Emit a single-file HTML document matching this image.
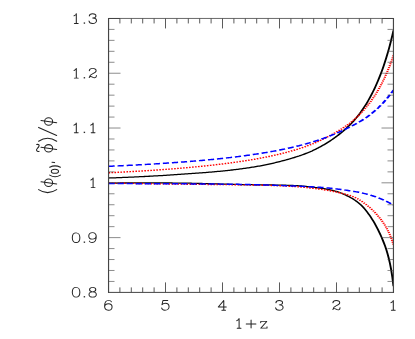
<!DOCTYPE html><html><head><meta charset="utf-8"><style>html,body{margin:0;padding:0;background:#fff;overflow:hidden}svg{display:block}</style></head><body>
<svg width="415" height="339" viewBox="0 0 415 339">
<rect width="415" height="339" fill="#fff"/>
<clipPath id="c"><rect x="108.5" y="18.45" width="285.0" height="273.95"/></clipPath>
<g clip-path="url(#c)" fill="none">
<g transform="scale(1.5,1)" stroke="#000" stroke-width="1.27">
<path d="M72.33,178.02 L73.13,177.98 L73.93,177.93 L74.73,177.89 L75.53,177.85 L76.32,177.80 L77.12,177.76 L77.92,177.71 L78.72,177.66 L79.52,177.62 L80.32,177.57 L81.11,177.52 L81.91,177.47 L82.71,177.42 L83.51,177.37 L84.31,177.32 L85.11,177.27 L85.90,177.22 L86.70,177.17 L87.50,177.12 L88.30,177.06 L89.10,177.01 L89.90,176.95 L90.69,176.90 L91.49,176.84 L92.29,176.79 L93.09,176.73 L93.89,176.67 L94.69,176.61 L95.48,176.56 L96.28,176.50 L97.08,176.44 L97.88,176.37 L98.68,176.31 L99.48,176.25 L100.27,176.19 L101.07,176.12 L101.87,176.06 L102.67,175.99 L103.47,175.92 L104.27,175.86 L105.06,175.79 L105.86,175.72 L106.66,175.65 L107.46,175.58 L108.26,175.51 L109.06,175.43 L109.85,175.36 L110.65,175.29 L111.45,175.21 L112.25,175.14 L113.05,175.06 L113.85,174.98 L114.64,174.90 L115.44,174.82 L116.24,174.74 L117.04,174.66 L117.84,174.57 L118.64,174.49 L119.43,174.40 L120.23,174.32 L121.03,174.23 L121.83,174.15 L122.63,174.06 L123.43,173.98 L124.22,173.90 L125.02,173.82 L125.82,173.74 L126.62,173.65 L127.42,173.57 L128.22,173.49 L129.01,173.41 L129.81,173.33 L130.61,173.24 L131.41,173.16 L132.21,173.08 L133.01,172.99 L133.80,172.90 L134.60,172.81 L135.40,172.72 L136.20,172.63 L137.00,172.54 L137.80,172.44 L138.59,172.34 L139.39,172.24 L140.19,172.14 L140.99,172.04 L141.79,171.93 L142.59,171.82 L143.38,171.71 L144.18,171.60 L144.98,171.49 L145.78,171.38 L146.58,171.26 L147.38,171.15 L148.17,171.03 L148.97,170.91 L149.77,170.78 L150.57,170.66 L151.37,170.53 L152.17,170.40 L152.96,170.27 L153.76,170.14 L154.56,170.00 L155.36,169.86 L156.16,169.72 L156.96,169.57 L157.75,169.42 L158.55,169.27 L159.35,169.12 L160.15,168.96 L160.95,168.80 L161.75,168.64 L162.54,168.48 L163.34,168.31 L164.14,168.14 L164.94,167.97 L165.74,167.79 L166.54,167.61 L167.33,167.42 L168.13,167.24 L168.93,167.05 L169.73,166.85 L170.53,166.65 L171.32,166.44 L172.12,166.23 L172.92,166.02 L173.72,165.80 L174.52,165.57 L175.32,165.34 L176.11,165.11 L176.91,164.86 L177.71,164.62 L178.51,164.37 L179.31,164.11 L180.11,163.85 L180.90,163.59 L181.70,163.32 L182.50,163.04 L183.30,162.76 L184.10,162.47 L184.90,162.18 L185.69,161.89 L186.49,161.58 L187.29,161.28 L188.09,160.96 L188.89,160.65 L189.69,160.32 L190.48,159.99 L191.28,159.66 L192.08,159.32 L192.88,158.98 L193.68,158.63 L194.48,158.28 L195.27,157.92 L196.07,157.56 L196.87,157.18 L197.67,156.80 L198.47,156.41 L199.27,156.02 L200.06,155.61 L200.86,155.20 L201.66,154.77 L202.46,154.33 L203.26,153.88 L204.06,153.42 L204.85,152.95 L205.65,152.46 L206.45,151.96 L207.25,151.44 L208.05,150.91 L208.85,150.35 L209.64,149.78 L210.44,149.20 L211.24,148.60 L212.04,147.98 L212.84,147.34 L213.64,146.69 L214.43,146.03 L215.23,145.35 L216.03,144.65 L216.83,143.94 L217.63,143.21 L218.43,142.47 L219.22,141.71 L220.02,140.94 L220.82,140.15 L221.62,139.34 L222.42,138.51 L223.22,137.66 L224.01,136.79 L224.81,135.89 L225.61,134.97 L226.41,134.02 L227.21,133.06 L228.01,132.06 L228.80,131.04 L229.60,130.00 L230.40,128.92 L231.20,127.82 L232.00,126.69 L232.80,125.54 L233.59,124.35 L234.39,123.13 L235.19,121.87 L235.99,120.57 L236.79,119.22 L237.59,117.81 L238.38,116.35 L239.18,114.82 L239.98,113.24 L240.78,111.59 L241.58,109.88 L242.38,108.11 L243.17,106.28 L243.97,104.39 L244.77,102.43 L245.57,100.39 L246.37,98.27 L247.17,96.06 L247.96,93.78 L248.76,91.40 L249.56,88.93 L250.36,86.36 L251.16,83.69 L251.96,80.92 L252.75,78.03 L253.55,75.01 L254.35,71.85 L255.15,68.55 L255.95,65.10 L256.75,61.48 L257.54,57.68 L258.34,53.69 L259.14,49.50 L259.94,45.09 L260.74,40.44 L261.54,35.54 L262.33,30.36"/><path d="M72.33,183.02 L73.13,183.02 L73.93,183.02 L74.73,183.02 L75.53,183.01 L76.32,183.01 L77.12,183.01 L77.92,183.01 L78.72,183.01 L79.52,183.01 L80.32,183.00 L81.11,183.00 L81.91,183.00 L82.71,183.00 L83.51,183.00 L84.31,182.99 L85.11,182.99 L85.90,182.99 L86.70,182.99 L87.50,182.98 L88.30,182.98 L89.10,182.98 L89.90,182.98 L90.69,182.97 L91.49,182.97 L92.29,182.97 L93.09,182.97 L93.89,182.96 L94.69,182.96 L95.48,182.96 L96.28,182.96 L97.08,182.96 L97.88,182.95 L98.68,182.95 L99.48,182.95 L100.27,182.95 L101.07,182.95 L101.87,182.95 L102.67,182.95 L103.47,182.95 L104.27,182.95 L105.06,182.95 L105.86,182.95 L106.66,182.95 L107.46,182.95 L108.26,182.95 L109.06,182.96 L109.85,182.96 L110.65,182.97 L111.45,182.97 L112.25,182.98 L113.05,182.98 L113.85,182.99 L114.64,183.00 L115.44,183.01 L116.24,183.02 L117.04,183.03 L117.84,183.04 L118.64,183.05 L119.43,183.07 L120.23,183.08 L121.03,183.10 L121.83,183.11 L122.63,183.13 L123.43,183.15 L124.22,183.17 L125.02,183.19 L125.82,183.21 L126.62,183.23 L127.42,183.25 L128.22,183.28 L129.01,183.30 L129.81,183.33 L130.61,183.35 L131.41,183.38 L132.21,183.41 L133.01,183.44 L133.80,183.47 L134.60,183.50 L135.40,183.53 L136.20,183.56 L137.00,183.59 L137.80,183.62 L138.59,183.66 L139.39,183.69 L140.19,183.73 L140.99,183.76 L141.79,183.80 L142.59,183.83 L143.38,183.87 L144.18,183.90 L144.98,183.94 L145.78,183.97 L146.58,184.01 L147.38,184.04 L148.17,184.08 L148.97,184.11 L149.77,184.15 L150.57,184.18 L151.37,184.22 L152.17,184.25 L152.96,184.28 L153.76,184.32 L154.56,184.35 L155.36,184.38 L156.16,184.41 L156.96,184.44 L157.75,184.47 L158.55,184.49 L159.35,184.52 L160.15,184.54 L160.95,184.57 L161.75,184.59 L162.54,184.61 L163.34,184.63 L164.14,184.65 L164.94,184.67 L165.74,184.69 L166.54,184.71 L167.33,184.73 L168.13,184.74 L168.93,184.76 L169.73,184.77 L170.53,184.79 L171.32,184.80 L172.12,184.82 L172.92,184.83 L173.72,184.84 L174.52,184.86 L175.32,184.87 L176.11,184.88 L176.91,184.89 L177.71,184.91 L178.51,184.92 L179.31,184.93 L180.11,184.95 L180.90,184.96 L181.70,184.98 L182.50,184.99 L183.30,185.01 L184.10,185.03 L184.90,185.05 L185.69,185.07 L186.49,185.09 L187.29,185.12 L188.09,185.14 L188.89,185.17 L189.69,185.20 L190.48,185.23 L191.28,185.26 L192.08,185.30 L192.88,185.34 L193.68,185.38 L194.48,185.42 L195.27,185.46 L196.07,185.51 L196.87,185.56 L197.67,185.62 L198.47,185.68 L199.27,185.77 L200.06,185.86 L200.86,185.96 L201.66,186.07 L202.46,186.18 L203.26,186.30 L204.06,186.42 L204.85,186.55 L205.65,186.67 L206.45,186.80 L207.25,186.94 L208.05,187.08 L208.85,187.24 L209.64,187.39 L210.44,187.55 L211.24,187.71 L212.04,187.87 L212.84,188.02 L213.64,188.18 L214.43,188.33 L215.23,188.50 L216.03,188.68 L216.83,188.88 L217.63,189.08 L218.43,189.30 L219.22,189.54 L220.02,189.79 L220.82,190.05 L221.62,190.34 L222.42,190.65 L223.22,190.97 L224.01,191.32 L224.81,191.69 L225.61,192.09 L226.41,192.52 L227.21,192.97 L228.01,193.46 L228.80,193.97 L229.60,194.52 L230.40,195.07 L231.20,195.63 L232.00,196.20 L232.80,196.80 L233.59,197.44 L234.39,198.12 L235.19,198.84 L235.99,199.59 L236.79,200.38 L237.59,201.22 L238.38,202.12 L239.18,203.09 L239.98,204.11 L240.78,205.18 L241.58,206.35 L242.38,207.63 L243.17,209.04 L243.97,210.51 L244.77,212.05 L245.57,213.66 L246.37,215.33 L247.17,217.07 L247.96,218.88 L248.76,220.79 L249.56,222.83 L250.36,224.99 L251.16,227.24 L251.96,229.57 L252.75,231.98 L253.55,234.51 L254.35,237.19 L255.15,240.02 L255.95,243.02 L256.75,246.21 L257.54,249.69 L258.34,253.60 L259.14,258.06 L259.94,263.25 L260.74,269.42 L261.54,276.90 L262.33,286.16"/></g>
<g transform="scale(1.5,1)" stroke="#f00" stroke-width="1.4" stroke-dasharray="1.06 0.94">
<path d="M72.33,172.78 L73.13,172.72 L73.93,172.66 L74.73,172.61 L75.53,172.55 L76.32,172.49 L77.12,172.43 L77.92,172.37 L78.72,172.31 L79.52,172.24 L80.32,172.18 L81.11,172.12 L81.91,172.06 L82.71,171.99 L83.51,171.93 L84.31,171.86 L85.11,171.80 L85.90,171.73 L86.70,171.67 L87.50,171.60 L88.30,171.53 L89.10,171.46 L89.90,171.39 L90.69,171.32 L91.49,171.25 L92.29,171.18 L93.09,171.11 L93.89,171.04 L94.69,170.97 L95.48,170.89 L96.28,170.82 L97.08,170.74 L97.88,170.67 L98.68,170.59 L99.48,170.51 L100.27,170.44 L101.07,170.36 L101.87,170.28 L102.67,170.20 L103.47,170.12 L104.27,170.04 L105.06,169.95 L105.86,169.87 L106.66,169.79 L107.46,169.70 L108.26,169.62 L109.06,169.53 L109.85,169.44 L110.65,169.35 L111.45,169.27 L112.25,169.18 L113.05,169.08 L113.85,168.99 L114.64,168.90 L115.44,168.81 L116.24,168.71 L117.04,168.62 L117.84,168.52 L118.64,168.42 L119.43,168.32 L120.23,168.23 L121.03,168.12 L121.83,168.02 L122.63,167.92 L123.43,167.82 L124.22,167.71 L125.02,167.61 L125.82,167.50 L126.62,167.39 L127.42,167.28 L128.22,167.17 L129.01,167.06 L129.81,166.95 L130.61,166.83 L131.41,166.72 L132.21,166.60 L133.01,166.48 L133.80,166.36 L134.60,166.24 L135.40,166.12 L136.20,166.00 L137.00,165.87 L137.80,165.75 L138.59,165.62 L139.39,165.49 L140.19,165.36 L140.99,165.23 L141.79,165.09 L142.59,164.96 L143.38,164.82 L144.18,164.68 L144.98,164.54 L145.78,164.40 L146.58,164.26 L147.38,164.11 L148.17,163.97 L148.97,163.82 L149.77,163.67 L150.57,163.51 L151.37,163.36 L152.17,163.20 L152.96,163.05 L153.76,162.89 L154.56,162.72 L155.36,162.56 L156.16,162.39 L156.96,162.23 L157.75,162.06 L158.55,161.88 L159.35,161.71 L160.15,161.53 L160.95,161.35 L161.75,161.17 L162.54,160.99 L163.34,160.80 L164.14,160.61 L164.94,160.42 L165.74,160.22 L166.54,160.03 L167.33,159.83 L168.13,159.62 L168.93,159.42 L169.73,159.21 L170.53,159.00 L171.32,158.78 L172.12,158.57 L172.92,158.35 L173.72,158.12 L174.52,157.90 L175.32,157.67 L176.11,157.43 L176.91,157.20 L177.71,156.96 L178.51,156.71 L179.31,156.46 L180.11,156.21 L180.90,155.96 L181.70,155.70 L182.50,155.44 L183.30,155.17 L184.10,154.90 L184.90,154.62 L185.69,154.34 L186.49,154.06 L187.29,153.77 L188.09,153.47 L188.89,153.18 L189.69,152.87 L190.48,152.56 L191.28,152.25 L192.08,151.93 L192.88,151.61 L193.68,151.28 L194.48,150.94 L195.27,150.60 L196.07,150.25 L196.87,149.90 L197.67,149.54 L198.47,149.18 L199.27,148.80 L200.06,148.42 L200.86,148.04 L201.66,147.64 L202.46,147.23 L203.26,146.81 L204.06,146.38 L204.85,145.94 L205.65,145.49 L206.45,145.03 L207.25,144.56 L208.05,144.08 L208.85,143.60 L209.64,143.10 L210.44,142.58 L211.24,142.06 L212.04,141.53 L212.84,140.99 L213.64,140.44 L214.43,139.87 L215.23,139.27 L216.03,138.66 L216.83,138.04 L217.63,137.41 L218.43,136.78 L219.22,136.14 L220.02,135.51 L220.82,134.87 L221.62,134.23 L222.42,133.58 L223.22,132.92 L224.01,132.24 L224.81,131.56 L225.61,130.85 L226.41,130.13 L227.21,129.38 L228.01,128.63 L228.80,127.87 L229.60,127.08 L230.40,126.28 L231.20,125.45 L232.00,124.60 L232.80,123.71 L233.59,122.78 L234.39,121.81 L235.19,120.81 L235.99,119.77 L236.79,118.71 L237.59,117.61 L238.38,116.48 L239.18,115.31 L239.98,114.11 L240.78,112.88 L241.58,111.60 L242.38,110.29 L243.17,108.93 L243.97,107.52 L244.77,106.07 L245.57,104.57 L246.37,103.02 L247.17,101.42 L247.96,99.76 L248.76,98.03 L249.56,96.25 L250.36,94.39 L251.16,92.47 L251.96,90.47 L252.75,88.40 L253.55,86.24 L254.35,83.99 L255.15,81.65 L255.95,79.21 L256.75,76.66 L257.54,74.00 L258.34,71.22 L259.14,68.31 L259.94,65.26 L260.74,62.07 L261.54,58.71 L262.33,55.19"/><path d="M72.33,183.12 L73.13,183.13 L73.93,183.14 L74.73,183.16 L75.53,183.17 L76.32,183.18 L77.12,183.20 L77.92,183.21 L78.72,183.22 L79.52,183.24 L80.32,183.25 L81.11,183.27 L81.91,183.28 L82.71,183.30 L83.51,183.31 L84.31,183.33 L85.11,183.34 L85.90,183.36 L86.70,183.37 L87.50,183.39 L88.30,183.41 L89.10,183.42 L89.90,183.44 L90.69,183.46 L91.49,183.47 L92.29,183.49 L93.09,183.51 L93.89,183.53 L94.69,183.54 L95.48,183.56 L96.28,183.58 L97.08,183.60 L97.88,183.61 L98.68,183.63 L99.48,183.65 L100.27,183.67 L101.07,183.69 L101.87,183.70 L102.67,183.72 L103.47,183.74 L104.27,183.76 L105.06,183.78 L105.86,183.79 L106.66,183.81 L107.46,183.83 L108.26,183.85 L109.06,183.86 L109.85,183.88 L110.65,183.90 L111.45,183.92 L112.25,183.94 L113.05,183.95 L113.85,183.97 L114.64,183.99 L115.44,184.00 L116.24,184.02 L117.04,184.04 L117.84,184.05 L118.64,184.07 L119.43,184.09 L120.23,184.10 L121.03,184.12 L121.83,184.14 L122.63,184.15 L123.43,184.17 L124.22,184.18 L125.02,184.20 L125.82,184.21 L126.62,184.23 L127.42,184.24 L128.22,184.26 L129.01,184.27 L129.81,184.29 L130.61,184.30 L131.41,184.32 L132.21,184.33 L133.01,184.34 L133.80,184.36 L134.60,184.37 L135.40,184.39 L136.20,184.40 L137.00,184.41 L137.80,184.43 L138.59,184.44 L139.39,184.45 L140.19,184.46 L140.99,184.48 L141.79,184.49 L142.59,184.50 L143.38,184.52 L144.18,184.53 L144.98,184.54 L145.78,184.55 L146.58,184.57 L147.38,184.58 L148.17,184.59 L148.97,184.61 L149.77,184.62 L150.57,184.63 L151.37,184.65 L152.17,184.66 L152.96,184.67 L153.76,184.69 L154.56,184.70 L155.36,184.72 L156.16,184.73 L156.96,184.75 L157.75,184.76 L158.55,184.78 L159.35,184.79 L160.15,184.81 L160.95,184.82 L161.75,184.84 L162.54,184.86 L163.34,184.87 L164.14,184.89 L164.94,184.91 L165.74,184.93 L166.54,184.95 L167.33,184.97 L168.13,184.99 L168.93,185.01 L169.73,185.03 L170.53,185.06 L171.32,185.08 L172.12,185.10 L172.92,185.13 L173.72,185.15 L174.52,185.18 L175.32,185.21 L176.11,185.24 L176.91,185.27 L177.71,185.30 L178.51,185.33 L179.31,185.36 L180.11,185.40 L180.90,185.43 L181.70,185.47 L182.50,185.51 L183.30,185.55 L184.10,185.60 L184.90,185.65 L185.69,185.69 L186.49,185.75 L187.29,185.80 L188.09,185.86 L188.89,185.91 L189.69,185.98 L190.48,186.04 L191.28,186.10 L192.08,186.17 L192.88,186.24 L193.68,186.31 L194.48,186.38 L195.27,186.46 L196.07,186.54 L196.87,186.62 L197.67,186.70 L198.47,186.79 L199.27,186.89 L200.06,186.98 L200.86,187.09 L201.66,187.20 L202.46,187.31 L203.26,187.43 L204.06,187.55 L204.85,187.68 L205.65,187.81 L206.45,187.94 L207.25,188.08 L208.05,188.22 L208.85,188.36 L209.64,188.51 L210.44,188.66 L211.24,188.81 L212.04,188.96 L212.84,189.11 L213.64,189.27 L214.43,189.44 L215.23,189.60 L216.03,189.78 L216.83,189.96 L217.63,190.15 L218.43,190.34 L219.22,190.54 L220.02,190.76 L220.82,190.98 L221.62,191.21 L222.42,191.46 L223.22,191.71 L224.01,191.98 L224.81,192.24 L225.61,192.50 L226.41,192.76 L227.21,193.03 L228.01,193.32 L228.80,193.61 L229.60,193.93 L230.40,194.24 L231.20,194.56 L232.00,194.89 L232.80,195.25 L233.59,195.65 L234.39,196.08 L235.19,196.53 L235.99,197.02 L236.79,197.56 L237.59,198.16 L238.38,198.80 L239.18,199.49 L239.98,200.21 L240.78,200.96 L241.58,201.76 L242.38,202.59 L243.17,203.48 L243.97,204.40 L244.77,205.35 L245.57,206.34 L246.37,207.37 L247.17,208.44 L247.96,209.54 L248.76,210.69 L249.56,211.88 L250.36,213.13 L251.16,214.44 L251.96,215.80 L252.75,217.23 L253.55,218.72 L254.35,220.28 L255.15,221.94 L255.95,223.70 L256.75,225.58 L257.54,227.60 L258.34,229.79 L259.14,232.18 L259.94,234.80 L260.74,237.73 L261.54,241.04 L262.33,244.82"/></g>
<g transform="scale(1.5,1)" stroke="#00f" stroke-width="1.48">
<path d="M72.33,166.30 L73.13,166.25 L73.93,166.20 L74.73,166.14 L75.53,166.09 L76.32,166.03 L77.12,165.98 L77.92,165.92 L78.72,165.87 L79.52,165.81 L80.32,165.75 L81.11,165.70 L81.91,165.64 L82.71,165.58 L83.51,165.52 L84.31,165.46 L85.11,165.40 L85.90,165.34 L86.70,165.28 L87.50,165.22 L88.30,165.16 L89.10,165.09 L89.90,165.03 L90.69,164.97 L91.49,164.90 L92.29,164.84 L93.09,164.77 L93.89,164.71 L94.69,164.64 L95.48,164.58 L96.28,164.51 L97.08,164.44 L97.88,164.37 L98.68,164.30 L99.48,164.23 L100.27,164.16 L101.07,164.09 L101.87,164.02 L102.67,163.95 L103.47,163.87 L104.27,163.80 L105.06,163.73 L105.86,163.65 L106.66,163.57 L107.46,163.50 L108.26,163.42 L109.06,163.34 L109.85,163.26 L110.65,163.19 L111.45,163.11 L112.25,163.02 L113.05,162.94 L113.85,162.86 L114.64,162.78 L115.44,162.69 L116.24,162.61 L117.04,162.52 L117.84,162.44 L118.64,162.35 L119.43,162.26 L120.23,162.17 L121.03,162.08 L121.83,161.99 L122.63,161.90 L123.43,161.81 L124.22,161.72 L125.02,161.62 L125.82,161.53 L126.62,161.43 L127.42,161.33 L128.22,161.23 L129.01,161.14 L129.81,161.03 L130.61,160.93 L131.41,160.83 L132.21,160.73 L133.01,160.62 L133.80,160.52 L134.60,160.41 L135.40,160.30 L136.20,160.20 L137.00,160.09 L137.80,159.97 L138.59,159.86 L139.39,159.75 L140.19,159.63 L140.99,159.52 L141.79,159.40 L142.59,159.28 L143.38,159.16 L144.18,159.04 L144.98,158.92 L145.78,158.79 L146.58,158.67 L147.38,158.54 L148.17,158.41 L148.97,158.28 L149.77,158.15 L150.57,158.02 L151.37,157.89 L152.17,157.75 L152.96,157.61 L153.76,157.48 L154.56,157.33 L155.36,157.19 L156.16,157.05 L156.96,156.90 L157.75,156.76 L158.55,156.61 L159.35,156.46 L160.15,156.30 L160.95,156.15 L161.75,155.99 L162.54,155.84 L163.34,155.67 L164.14,155.51 L164.94,155.35 L165.74,155.18 L166.54,155.01 L167.33,154.84 L168.13,154.67 L168.93,154.50 L169.73,154.32 L170.53,154.14 L171.32,153.96 L172.12,153.77 L172.92,153.59 L173.72,153.40 L174.52,153.21 L175.32,153.01 L176.11,152.82 L176.91,152.62 L177.71,152.42 L178.51,152.21 L179.31,152.00 L180.11,151.79 L180.90,151.58 L181.70,151.36 L182.50,151.14 L183.30,150.92 L184.10,150.70 L184.90,150.47 L185.69,150.24 L186.49,150.00 L187.29,149.76 L188.09,149.52 L188.89,149.27 L189.69,149.03 L190.48,148.77 L191.28,148.52 L192.08,148.26 L192.88,147.99 L193.68,147.72 L194.48,147.45 L195.27,147.17 L196.07,146.89 L196.87,146.61 L197.67,146.32 L198.47,146.02 L199.27,145.73 L200.06,145.42 L200.86,145.11 L201.66,144.80 L202.46,144.48 L203.26,144.16 L204.06,143.83 L204.85,143.49 L205.65,143.16 L206.45,142.81 L207.25,142.46 L208.05,142.10 L208.85,141.74 L209.64,141.37 L210.44,140.99 L211.24,140.61 L212.04,140.22 L212.84,139.83 L213.64,139.42 L214.43,139.01 L215.23,138.60 L216.03,138.17 L216.83,137.74 L217.63,137.30 L218.43,136.85 L219.22,136.39 L220.02,135.93 L220.82,135.45 L221.62,134.97 L222.42,134.48 L223.22,133.98 L224.01,133.46 L224.81,132.94 L225.61,132.41 L226.41,131.87 L227.21,131.32 L228.01,130.77 L228.80,130.21 L229.60,129.66 L230.40,129.09 L231.20,128.52 L232.00,127.95 L232.80,127.36 L233.59,126.76 L234.39,126.15 L235.19,125.53 L235.99,124.89 L236.79,124.24 L237.59,123.58 L238.38,122.91 L239.18,122.24 L239.98,121.56 L240.78,120.86 L241.58,120.13 L242.38,119.39 L243.17,118.61 L243.97,117.79 L244.77,116.93 L245.57,116.05 L246.37,115.14 L247.17,114.21 L247.96,113.25 L248.76,112.27 L249.56,111.27 L250.36,110.23 L251.16,109.17 L251.96,108.08 L252.75,106.95 L253.55,105.78 L254.35,104.56 L255.15,103.29 L255.95,101.99 L256.75,100.64 L257.54,99.26 L258.34,97.85 L259.14,96.40 L259.94,94.89 L260.74,93.32 L261.54,91.71 L262.33,90.05" stroke-dasharray="4.12 1.94"/>
<path d="M72.33,183.57 L73.13,183.57 L73.93,183.57 L74.73,183.57 L75.53,183.58 L76.32,183.58 L77.12,183.58 L77.92,183.58 L78.72,183.59 L79.52,183.59 L80.32,183.59 L81.11,183.60 L81.91,183.60 L82.71,183.60 L83.51,183.61 L84.31,183.61 L85.11,183.61 L85.90,183.62 L86.70,183.62 L87.50,183.62 L88.30,183.63 L89.10,183.63 L89.90,183.63 L90.69,183.64 L91.49,183.64 L92.29,183.64 L93.09,183.65 L93.89,183.65 L94.69,183.66 L95.48,183.66 L96.28,183.66 L97.08,183.67 L97.88,183.67 L98.68,183.68 L99.48,183.68 L100.27,183.69 L101.07,183.69 L101.87,183.70 L102.67,183.70 L103.47,183.70 L104.27,183.71 L105.06,183.71 L105.86,183.72 L106.66,183.72 L107.46,183.73 L108.26,183.73 L109.06,183.74 L109.85,183.75 L110.65,183.75 L111.45,183.76 L112.25,183.76 L113.05,183.77 L113.85,183.77 L114.64,183.78 L115.44,183.79 L116.24,183.79 L117.04,183.80 L117.84,183.80 L118.64,183.81 L119.43,183.82 L120.23,183.82 L121.03,183.83 L121.83,183.84 L122.63,183.84 L123.43,183.85 L124.22,183.86 L125.02,183.87 L125.82,183.87 L126.62,183.88 L127.42,183.89 L128.22,183.90 L129.01,183.90 L129.81,183.91 L130.61,183.92 L131.41,183.93 L132.21,183.94 L133.01,183.95 L133.80,183.96 L134.60,183.96 L135.40,183.97 L136.20,183.98 L137.00,183.99 L137.80,184.00 L138.59,184.01 L139.39,184.02 L140.19,184.03 L140.99,184.04 L141.79,184.05 L142.59,184.06 L143.38,184.07 L144.18,184.09 L144.98,184.10 L145.78,184.11 L146.58,184.12 L147.38,184.13 L148.17,184.14 L148.97,184.16 L149.77,184.17 L150.57,184.18 L151.37,184.20 L152.17,184.21 L152.96,184.22 L153.76,184.24 L154.56,184.25 L155.36,184.27 L156.16,184.29 L156.96,184.30 L157.75,184.32 L158.55,184.34 L159.35,184.36 L160.15,184.39 L160.95,184.41 L161.75,184.43 L162.54,184.46 L163.34,184.48 L164.14,184.51 L164.94,184.53 L165.74,184.56 L166.54,184.59 L167.33,184.62 L168.13,184.65 L168.93,184.68 L169.73,184.71 L170.53,184.74 L171.32,184.78 L172.12,184.81 L172.92,184.84 L173.72,184.88 L174.52,184.91 L175.32,184.95 L176.11,184.98 L176.91,185.02 L177.71,185.06 L178.51,185.09 L179.31,185.13 L180.11,185.17 L180.90,185.21 L181.70,185.25 L182.50,185.29 L183.30,185.33 L184.10,185.37 L184.90,185.41 L185.69,185.45 L186.49,185.50 L187.29,185.54 L188.09,185.58 L188.89,185.63 L189.69,185.67 L190.48,185.72 L191.28,185.76 L192.08,185.81 L192.88,185.85 L193.68,185.90 L194.48,185.94 L195.27,185.99 L196.07,186.04 L196.87,186.09 L197.67,186.14 L198.47,186.18 L199.27,186.23 L200.06,186.28 L200.86,186.33 L201.66,186.38 L202.46,186.43 L203.26,186.48 L204.06,186.54 L204.85,186.59 L205.65,186.65 L206.45,186.71 L207.25,186.77 L208.05,186.83 L208.85,186.90 L209.64,186.96 L210.44,187.03 L211.24,187.11 L212.04,187.19 L212.84,187.27 L213.64,187.35 L214.43,187.44 L215.23,187.54 L216.03,187.64 L216.83,187.75 L217.63,187.86 L218.43,187.97 L219.22,188.09 L220.02,188.22 L220.82,188.34 L221.62,188.47 L222.42,188.61 L223.22,188.75 L224.01,188.89 L224.81,189.04 L225.61,189.19 L226.41,189.34 L227.21,189.49 L228.01,189.65 L228.80,189.81 L229.60,189.98 L230.40,190.14 L231.20,190.31 L232.00,190.49 L232.80,190.66 L233.59,190.85 L234.39,191.03 L235.19,191.23 L235.99,191.43 L236.79,191.64 L237.59,191.85 L238.38,192.07 L239.18,192.30 L239.98,192.54 L240.78,192.79 L241.58,193.06 L242.38,193.33 L243.17,193.61 L243.97,193.90 L244.77,194.21 L245.57,194.53 L246.37,194.87 L247.17,195.22 L247.96,195.58 L248.76,195.96 L249.56,196.36 L250.36,196.77 L251.16,197.19 L251.96,197.63 L252.75,198.09 L253.55,198.57 L254.35,199.07 L255.15,199.58 L255.95,200.12 L256.75,200.68 L257.54,201.25 L258.34,201.85 L259.14,202.47 L259.94,203.11 L260.74,203.77 L261.54,204.45 L262.33,205.15" stroke-dasharray="4.12 1.94"/></g>
</g>
<path d="M119.90,18.45v5M119.90,292.4v-5M131.30,18.45v5M131.30,292.4v-5M142.70,18.45v5M142.70,292.4v-5M154.10,18.45v5M154.10,292.4v-5M165.50,18.45v10M165.50,292.4v-10M176.90,18.45v5M176.90,292.4v-5M188.30,18.45v5M188.30,292.4v-5M199.70,18.45v5M199.70,292.4v-5M211.10,18.45v5M211.10,292.4v-5M222.50,18.45v10M222.50,292.4v-10M233.90,18.45v5M233.90,292.4v-5M245.30,18.45v5M245.30,292.4v-5M256.70,18.45v5M256.70,292.4v-5M268.10,18.45v5M268.10,292.4v-5M279.50,18.45v10M279.50,292.4v-10M290.90,18.45v5M290.90,292.4v-5M302.30,18.45v5M302.30,292.4v-5M313.70,18.45v5M313.70,292.4v-5M325.10,18.45v5M325.10,292.4v-5M336.50,18.45v10M336.50,292.4v-10M347.90,18.45v5M347.90,292.4v-5M359.30,18.45v5M359.30,292.4v-5M370.70,18.45v5M370.70,292.4v-5M382.10,18.45v5M382.10,292.4v-5" fill="none" stroke="#484848" stroke-width="0.9"/>
<path d="M108.5,29.41h6M393.5,29.41h-6M108.5,40.37h6M393.5,40.37h-6M108.5,51.32h6M393.5,51.32h-6M108.5,62.28h6M393.5,62.28h-6M108.5,73.24h12M393.5,73.24h-12M108.5,84.20h6M393.5,84.20h-6M108.5,95.16h6M393.5,95.16h-6M108.5,106.11h6M393.5,106.11h-6M108.5,117.07h6M393.5,117.07h-6M108.5,128.03h12M393.5,128.03h-12M108.5,138.99h6M393.5,138.99h-6M108.5,149.95h6M393.5,149.95h-6M108.5,160.90h6M393.5,160.90h-6M108.5,171.86h6M393.5,171.86h-6M108.5,182.82h12M393.5,182.82h-12M108.5,193.78h6M393.5,193.78h-6M108.5,204.74h6M393.5,204.74h-6M108.5,215.69h6M393.5,215.69h-6M108.5,226.65h6M393.5,226.65h-6M108.5,237.61h12M393.5,237.61h-12M108.5,248.57h6M393.5,248.57h-6M108.5,259.53h6M393.5,259.53h-6M108.5,270.48h6M393.5,270.48h-6M108.5,281.44h6M393.5,281.44h-6" fill="none" stroke="#444" stroke-width="0.62"/>
<path d="M108.5,18.45H393.5" fill="none" stroke="#444" stroke-width="0.8"/>
<path d="M108.5,18.45h11.4M393.5,18.45h-11.4" fill="none" stroke="#444" stroke-width="1.15"/>
<path d="M108.5,292.4H393.5" fill="none" stroke="#444" stroke-width="1.0"/>
<path d="M108.55,17.95V292.9M393.45,17.95V292.9" fill="none" stroke="#444" stroke-width="1.15"/>
<g fill="none" stroke="#222" stroke-width="0.92" stroke-linecap="round" stroke-linejoin="round">
<path transform="translate(71.95,23.45) scale(1.1103,0.935)" d="M 1.840 -8.100L 3.440 -9.300L 3.920 -10.400V 0.000M 2.160 0.000H 5.680"/>
<rect x="83.70" y="22.40" width="1.4" height="1.35" fill="#2a2a2a" stroke="none"/>
<path transform="translate(88.75,23.45) scale(1.1103,0.935)" d="M 0.480 -7.900C 0.640 -9.600 1.920 -10.400 3.440 -10.400C 5.280 -10.400 6.480 -9.400 6.480 -8.000C 6.480 -6.600 5.280 -5.800 3.520 -5.800C 5.600 -5.800 6.960 -4.700 6.960 -3.000C 6.960 -1.200 5.520 0.000 3.440 0.000C 1.600 0.000 0.400 -1.000 0.240 -2.700"/>
<path transform="translate(71.95,78.15) scale(1.1103,0.935)" d="M 1.840 -8.100L 3.440 -9.300L 3.920 -10.400V 0.000M 2.160 0.000H 5.680"/>
<rect x="83.70" y="77.10" width="1.4" height="1.35" fill="#2a2a2a" stroke="none"/>
<path transform="translate(88.75,78.15) scale(1.1103,0.935)" d="M 0.480 -7.900C 0.640 -9.600 1.920 -10.400 3.440 -10.400C 5.440 -10.400 6.640 -9.400 6.640 -8.000C 6.640 -6.400 5.200 -5.600 3.680 -4.900C 2.000 -4.100 0.720 -2.800 0.400 -0.600C 0.960 -1.800 1.920 -2.000 2.880 -1.400C 4.000 -0.600 4.960 -0.200 5.760 -0.500C 6.480 -0.800 6.880 -1.600 6.960 -2.800"/>
<path transform="translate(71.95,132.75) scale(1.1103,0.935)" d="M 1.840 -8.100L 3.440 -9.300L 3.920 -10.400V 0.000M 2.160 0.000H 5.680"/>
<rect x="83.70" y="131.70" width="1.4" height="1.35" fill="#2a2a2a" stroke="none"/>
<path transform="translate(88.75,132.75) scale(1.1103,0.935)" d="M 1.840 -8.100L 3.440 -9.300L 3.920 -10.400V 0.000M 2.160 0.000H 5.680"/>
<path transform="translate(88.75,187.65) scale(1.1103,0.935)" d="M 1.840 -8.100L 3.440 -9.300L 3.920 -10.400V 0.000M 2.160 0.000H 5.680"/>
<path transform="translate(71.95,242.55) scale(1.1103,0.935)" d="M 3.720 -10.400C 1.600 -10.400 0.320 -8.300 0.320 -5.200C 0.320 -2.100 1.600 0.000 3.720 0.000C 5.840 0.000 7.120 -2.100 7.120 -5.200C 7.120 -8.300 5.840 -10.400 3.720 -10.400Z"/>
<rect x="83.70" y="241.50" width="1.4" height="1.35" fill="#2a2a2a" stroke="none"/>
<path transform="translate(88.75,242.55) scale(1.1103,0.935)" d="M 0.560 -1.600C 0.960 -0.400 2.080 0.000 3.040 0.000C 5.440 0.000 6.720 -2.600 6.720 -6.100C 6.720 -9.100 5.280 -10.600 3.360 -10.600C 1.280 -10.600 0.000 -9.200 0.000 -7.100C 0.000 -5.000 1.280 -3.700 3.200 -3.700C 5.120 -3.700 6.640 -5.000 6.720 -7.200"/>
<path transform="translate(71.95,297.15) scale(1.1103,0.935)" d="M 3.720 -10.400C 1.600 -10.400 0.320 -8.300 0.320 -5.200C 0.320 -2.100 1.600 0.000 3.720 0.000C 5.840 0.000 7.120 -2.100 7.120 -5.200C 7.120 -8.300 5.840 -10.400 3.720 -10.400Z"/>
<rect x="83.70" y="296.10" width="1.4" height="1.35" fill="#2a2a2a" stroke="none"/>
<path transform="translate(88.75,297.15) scale(1.1103,0.935)" d="M 3.520 -10.400C 1.760 -10.400 0.720 -9.400 0.720 -8.050C 0.720 -6.700 1.760 -5.700 3.520 -5.700C 5.280 -5.700 6.320 -6.700 6.320 -8.050C 6.320 -9.400 5.280 -10.400 3.520 -10.400ZM 3.520 -5.700C 1.440 -5.700 0.240 -4.500 0.240 -2.850C 0.240 -1.200 1.440 0.000 3.520 0.000C 5.600 0.000 6.800 -1.200 6.800 -2.850C 6.800 -4.500 5.600 -5.700 3.520 -5.700Z"/>
<path transform="translate(104.25,310.25) scale(1.1103,0.935)" d="M 6.480 -9.000C 6.080 -10.200 4.960 -10.600 4.000 -10.600C 1.600 -10.600 0.320 -8.000 0.320 -4.500C 0.320 -1.500 1.760 0.000 3.680 0.000C 5.760 0.000 7.040 -1.400 7.040 -3.500C 7.040 -5.600 5.760 -6.900 3.840 -6.900C 1.920 -6.900 0.400 -5.600 0.320 -3.400"/>
<path transform="translate(161.35,310.25) scale(1.1103,0.935)" d="M 5.840 -10.400H 1.440L 0.560 -5.900C 1.440 -7.000 2.560 -7.500 3.520 -7.500C 5.600 -7.500 6.960 -6.000 6.960 -3.800C 6.960 -1.500 5.440 0.000 3.200 0.000C 1.440 0.000 0.400 -1.000 0.240 -2.600"/>
<path transform="translate(218.00,310.25) scale(1.1103,0.935)" d="M 5.200 -10.400V 0.000M 5.200 -10.400L 0.240 -3.500H 7.520M 3.440 0.000H 6.800"/>
<path transform="translate(275.35,310.25) scale(1.1103,0.935)" d="M 0.480 -7.900C 0.640 -9.600 1.920 -10.400 3.440 -10.400C 5.280 -10.400 6.480 -9.400 6.480 -8.000C 6.480 -6.600 5.280 -5.800 3.520 -5.800C 5.600 -5.800 6.960 -4.700 6.960 -3.000C 6.960 -1.200 5.520 0.000 3.440 0.000C 1.600 0.000 0.400 -1.000 0.240 -2.700"/>
<path transform="translate(332.35,310.25) scale(1.1103,0.935)" d="M 0.480 -7.900C 0.640 -9.600 1.920 -10.400 3.440 -10.400C 5.440 -10.400 6.640 -9.400 6.640 -8.000C 6.640 -6.400 5.200 -5.600 3.680 -4.900C 2.000 -4.100 0.720 -2.800 0.400 -0.600C 0.960 -1.800 1.920 -2.000 2.880 -1.400C 4.000 -0.600 4.960 -0.200 5.760 -0.500C 6.480 -0.800 6.880 -1.600 6.960 -2.800"/>
<path transform="translate(388.95,310.25) scale(1.1103,0.935)" d="M 1.840 -8.100L 3.440 -9.300L 3.920 -10.400V 0.000M 2.160 0.000H 5.680"/>
<path transform="translate(234.75,328.25) scale(1.1103,0.935)" d="M 1.840 -8.100L 3.440 -9.300L 3.920 -10.400V 0.000M 2.160 0.000H 5.680"/>
<path transform="translate(246.15,323.95) scale(1.1103,0.935)" d="M 0.000 0.000H 8.880M 4.440 -4.300V 4.300"/>
<path transform="translate(260.35,328.25) scale(1.1103,0.935)" d="M 0.320 -5.900V -7.300H 5.760L 0.320 -0.100H 6.000V -1.600"/>
</g>
<g fill="none" stroke="#222" stroke-width="1.05" stroke-linecap="round">
<ellipse cx="48.6" cy="121.5" rx="4" ry="3.7"/><path d="M41,120.5L56.7,122.7"/>
<path d="M38.6,127.4L56.7,135.4"/>
<path d="M38.6,141.2Q47.6,135.4 56.7,141.2"/>
<ellipse cx="48.6" cy="148.3" rx="4" ry="3.7"/><path d="M41,147.3L56.7,149.5"/>
<path d="M36.7,144.5C38.5,144.0 39.8,145.0 38.8,146.6C37.8,148.2 35.8,149.2 36.6,150.5C37.2,151.5 38.2,151.7 39.0,151.4"/>
<path d="M52.0,162.2L54.6,162.6"/>
<path d="M49.7,167.3Q55,164.5 60.4,167.3"/>
<ellipse cx="54.9" cy="171.2" rx="3.6" ry="2.05"/>
<path d="M49.7,175.1Q55,178.5 60.4,175.1"/>
<ellipse cx="48.6" cy="182.7" rx="4" ry="3.7"/><path d="M41,181.7L56.7,183.89999999999998"/>
<path d="M38.6,189.6Q47.6,195.6 56.7,189.6"/>
</g>
</svg></body></html>
